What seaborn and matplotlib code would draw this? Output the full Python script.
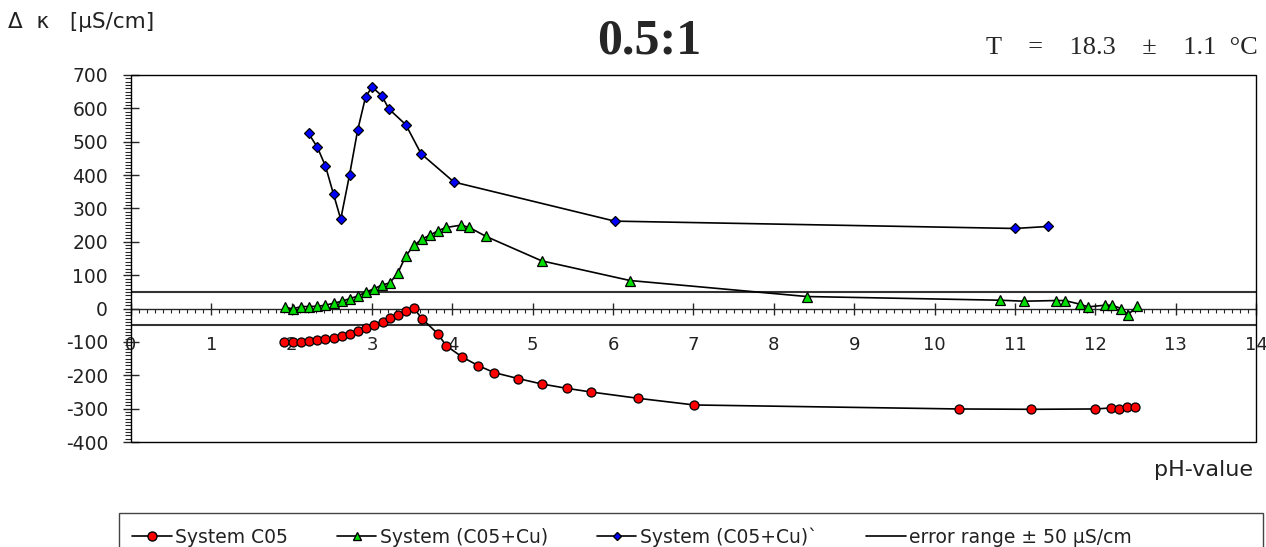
import numpy as np
import matplotlib
matplotlib.use("Agg")
import matplotlib.pyplot as plt
import seaborn as sns
from matplotlib.lines import Line2D
from matplotlib.patches import Rectangle
from matplotlib.ticker import MultipleLocator

# ---------------------------------------------------------------------
# DATA
# ---------------------------------------------------------------------
ph_c05 = [1.90, 2.01, 2.12, 2.22, 2.32, 2.42, 2.52, 2.63, 2.72, 2.82, 2.92,
          3.02, 3.13, 3.22, 3.32, 3.42, 3.52, 3.62, 3.82, 3.92, 4.12, 4.32,
          4.52, 4.82, 5.11, 5.42, 5.72, 6.31, 7.01, 10.30, 11.20, 12.00,
          12.19, 12.29, 12.40, 12.49]
dk_c05 = [-101, -101, -100, -98, -95, -92, -87, -81, -75, -67, -59,
          -48, -39, -29, -19, -8, 1, -30, -76, -111, -145, -171,
          -192, -210, -226, -239, -250, -269, -289, -301, -302, -301,
          -298, -300, -296, -295]

ph_c05cu = [1.92, 2.01, 2.12, 2.22, 2.32, 2.42, 2.52, 2.63, 2.72, 2.82, 2.92,
            3.02, 3.12, 3.22, 3.32, 3.42, 3.52, 3.62, 3.72, 3.82, 3.92, 4.11,
            4.21, 4.42, 5.11, 6.21, 8.41, 10.81, 11.11, 11.51, 11.62, 11.81,
            11.91, 12.12, 12.21, 12.32, 12.41, 12.52]
dk_c05cu = [4, -1, 6, 6, 7, 10, 16, 22, 30, 37, 49,
            59, 70, 77, 106, 158, 189, 208, 220, 233, 243, 250,
            243, 216, 143, 84, 36, 25, 22, 24, 24, 13,
            5, 10, 10, 0, -18, 7]

ph_c05cu2 = [2.21, 2.32, 2.42, 2.52, 2.61, 2.72, 2.82, 2.92, 3.00, 3.12,
             3.21, 3.42, 3.61, 4.02, 6.02, 11.00, 11.41]
dk_c05cu2 = [525, 483, 427, 343, 268, 401, 534, 635, 664, 638,
             598, 551, 464, 379, 262, 240, 246]

error_range = 50

legend_labels = ["System C05", "System (C05+Cu)", "System (C05+Cu)`",
                 "error range \u00b1 50 \u00b5S/cm"]

W, H = 1266, 547


def fig_xy(x, y):
    """pixel position (from top-left) -> figure fraction"""
    return x / W, 1 - y / H


# ---------------------------------------------------------------------
# FIGURE
# ---------------------------------------------------------------------
sns.set_style("white")
plt.rcParams["font.family"] = ["DejaVu Sans"]

fig = plt.figure(figsize=(W / 100, H / 100), dpi=100)
ax = fig.add_axes([131 / W, 1 - 442 / H, (1256 - 131) / W, (442 - 75) / H])

ax.axhline(error_range, color="#333333", lw=1.5, zorder=1)
ax.axhline(-error_range, color="#333333", lw=1.5, zorder=1)

line_kw = dict(color="black", lw=1.2, markeredgecolor="black",
               markeredgewidth=0.9, zorder=3)
sns.lineplot(x=ph_c05, y=dk_c05, ax=ax, marker="o", markersize=6.5,
             markerfacecolor="#ff0000", **line_kw)
sns.lineplot(x=ph_c05cu, y=dk_c05cu, ax=ax, marker="^", markersize=6.5,
             markerfacecolor="#00dd00", **line_kw)
sns.lineplot(x=ph_c05cu2, y=dk_c05cu2, ax=ax, marker="D", markersize=4.8,
             markerfacecolor="#0000ff", **line_kw)

ax.set_xlim(0, 14)
ax.set_ylim(-400, 700)

# x axis runs through zero, frame kept around the plot area
for side in ["top", "right", "left"]:
    ax.spines[side].set_visible(False)
ax.spines["bottom"].set_position(("data", 0))
ax.spines["bottom"].set_linewidth(1.0)
ax.spines["bottom"].set_zorder(2)
ax.add_patch(Rectangle((0, 0), 1, 1, transform=ax.transAxes, fill=False,
                       lw=1.0, edgecolor="black", clip_on=False, zorder=4))

ax.xaxis.set_major_locator(MultipleLocator(1))
ax.xaxis.set_minor_locator(MultipleLocator(0.1))
ax.yaxis.set_major_locator(MultipleLocator(100))
ax.yaxis.set_minor_locator(MultipleLocator(10))

ax.tick_params(axis="x", which="major", direction="inout", length=8.5,
               width=1.0, pad=15.5, labelsize=13, bottom=True)
ax.tick_params(axis="x", which="minor", direction="out", length=3,
               width=0.8, bottom=True)
ax.tick_params(axis="y", which="major", direction="inout", length=11,
               width=1.0, pad=11, labelsize=13.5, left=True)
ax.tick_params(axis="y", which="minor", direction="out", length=4,
               width=0.8, left=True)
ax.set_yticklabels([f"{int(v)}" for v in ax.get_yticks()])
ax.set_xticklabels([f"{int(v)}" for v in ax.get_xticks()])
for lab in ax.get_xticklabels() + ax.get_yticklabels():
    lab.set_color("#222222")

ax.set_xlabel("")
ax.set_ylabel("")

# ---------------------------------------------------------------------
# TEXTS
# ---------------------------------------------------------------------
fig.text(*fig_xy(8, 22), "\u0394  \u03ba   [\u00b5S/cm]", fontsize=15.5,
         ha="left", va="center", color="#222222")
fig.text(*fig_xy(649, 42), "0.5:1", fontsize=36, fontweight="bold",
         ha="center", va="center", family="Liberation Serif")
fig.text(*fig_xy(1258, 48), "T    =    18.3    \u00b1    1.1  \u00b0C",
         fontsize=19, ha="right", va="center", family="Liberation Serif")
fig.text(*fig_xy(1253, 470), "pH-value", fontsize=16, ha="right",
         va="center", color="#222222")

# ---------------------------------------------------------------------
# LEGEND (entries by matplotlib, long frame drawn separately)
# ---------------------------------------------------------------------
handles = [
    Line2D([], [], color="black", lw=1.2, marker="o", markersize=6.5,
           markerfacecolor="#ff0000", markeredgecolor="black"),
    Line2D([], [], color="black", lw=1.2, marker="^", markersize=6,
           markerfacecolor="#00dd00", markeredgecolor="black"),
    Line2D([], [], color="black", lw=1.2, marker="D", markersize=4.5,
           markerfacecolor="#0000ff", markeredgecolor="black"),
    Line2D([], [], color="black", lw=1.2),
]
leg = fig.legend(handles, legend_labels, ncol=4, loc="upper left",
                 bbox_to_anchor=fig_xy(119, 514), frameon=False,
                 fontsize=13.5, handlelength=2.1, columnspacing=2.6,
                 handletextpad=0.2, borderpad=0.2, labelcolor="#222222")
fig.add_artist(Rectangle(fig_xy(119, 580), (1263 - 119) / W, 67 / H,
                         transform=fig.transFigure, fill=False, lw=1.0,
                         edgecolor="#444444", clip_on=False))

fig.savefig("out.png", dpi=100)
